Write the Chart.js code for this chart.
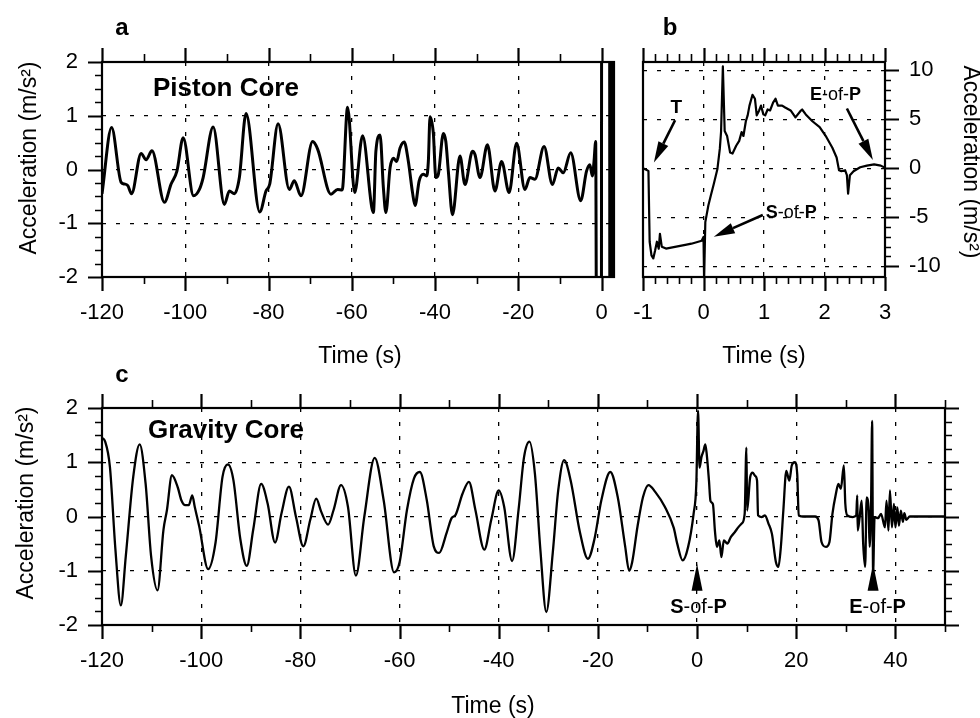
<!DOCTYPE html>
<html><head><meta charset="utf-8">
<script src="https://cdn.jsdelivr.net/npm/chart.js@4.4.1/dist/chart.umd.min.js"></script>
<style>
html,body{margin:0;padding:0;background:#fff;}
#wrap{position:relative;width:980px;height:718px;overflow:hidden;background:#fff;}
#wrap canvas{position:absolute;left:0;top:0;width:980px;height:718px;}
</style></head><body>
<div id="wrap">
<canvas id="ca" width="980" height="718"></canvas>
<canvas id="cb" width="980" height="718"></canvas>
<canvas id="cc" width="980" height="718"></canvas>
</div>
<script>
// ---------- Panel a: Piston Core ----------
const A_TIME = [-120,-117.7,-115.4,-114.6,-113.8,-112.9,-110.6,-109.4,-108,-105,-103.4,-102,-100.5,-98,-96.6,-95.7,-93.3,-90.6,-89.4,-88.2,-87,-85.4,-82.1,-80.6,-79.7,-77.7,-75,-73.8,-72.2,-69.4,-68.2,-65,-63.4,-62.3,-61,-59.3,-57.4,-55.2,-54.8,-54.2,-53.2,-52.4,-51.8,-50.8,-50,-49.2,-48.4,-47.4,-46.4,-45.4,-44.8,-43.8,-42.8,-42,-41.6,-41.2,-40.4,-39.8,-39.2,-38,-37.4,-36.8,-35.8,-34,-32.8,-31,-30.4,-29.2,-27.4,-25.6,-24,-22.2,-20.4,-18.4,-17.2,-16,-13.8,-11.8,-10.4,-9.2,-7.4,-5,-3.6,-2.8,-2.2,-1.8,-1.4,-1.2,-0.02,0.02,1.95,2.0,2.55,2.6,3];
const A_ACC  = [-0.45,0.78,-0.24,-0.27,-0.3,-0.45,0.3,0.18,0.35,-0.61,-0.27,-0.03,0.59,-0.49,-0.37,-0.15,0.79,-0.65,-0.4,-0.45,-0.15,1.04,-0.79,-0.4,-0.27,0.85,-0.37,-0.21,-0.49,0.52,0.38,-0.46,-0.37,-0.38,1.16,-0.43,0.63,-0.7,-0.8,0.34,0.64,-0.34,-0.8,0.03,0.21,0.15,0.4,0.51,0.15,-0.43,-0.67,-0.21,-0.09,-0.12,0.15,0.98,0.67,-0.15,-0.09,0.67,0.52,-0.03,-0.84,0.25,-0.28,0.34,0.28,-0.15,0.46,-0.4,0.15,-0.43,0.49,-0.37,-0.15,-0.18,0.43,-0.28,0.03,-0.06,0.31,-0.58,-0.03,0.09,-0.12,0.15,0.52,-3,-3,3,3,-3,-3,3,3];
const A_X_TICKS = [-120,-100,-80,-60,-40,-20,0];
const A_X_MINOR = [-110,-90,-70,-50,-30,-10];
const A_Y_TICKS = [-2,-1,0,1,2];
const A_Y_MINOR = [-1.75,-1.5,-1.25,-0.75,-0.5,-0.25,0.25,0.5,0.75,1.25,1.5,1.75];

// ---------- Panel b: close-up of penetration ----------
const B_TIME = [-1.0,-0.93,-0.91,-0.89,-0.86,-0.83,-0.8,-0.77,-0.74,-0.72,-0.69,-0.62,-0.45,-0.28,-0.2,-0.03,0.0,0.01,0.03,0.08,0.12,0.17,0.23,0.27,0.29,0.32,0.35,0.39,0.44,0.48,0.54,0.59,0.63,0.66,0.7,0.73,0.76,0.81,0.85,0.88,0.92,0.95,0.99,1.02,1.06,1.1,1.15,1.19,1.23,1.3,1.35,1.44,1.52,1.61,1.63,1.69,1.8,1.92,2.03,2.13,2.2,2.24,2.28,2.34,2.37,2.39,2.42,2.48,2.59,2.7,2.82,2.93,3.0];
const B_ACC  = [0,-0.2,-0.3,-7.5,-8.9,-9.2,-8.4,-7.5,-8.2,-6.7,-8.0,-8.2,-8.0,-7.8,-7.7,-7.4,-7.0,-11.5,-5.5,-3.8,-2.8,-1.6,-0.07,2.0,3.7,10.4,3.8,3.3,1.6,1.5,2.3,2.8,3.7,3.3,4.8,5.4,6.4,7.5,7.1,5.4,5.9,6.4,5.5,5.4,6.0,5.9,6.7,7.1,6.4,6.4,6.2,5.9,5.2,5.9,6.0,5.5,4.8,4.2,3.2,2.1,1.1,-0.2,-0.3,-0.2,-0.7,-2.6,-0.7,-0.3,0.1,0.27,0.4,0.27,0.05];
const B_X_TICKS = [-1,0,1,2,3];
const B_X_MINOR = [-0.8,-0.6,-0.4,-0.2,0.2,0.4,0.6,0.8,1.2,1.4,1.6,1.8,2.2,2.4,2.6,2.8];
const B_Y_TICKS = [-10,-5,0,5,10];
const B_Y_MINOR = [-9,-8,-7,-6,-4,-3,-2,-1,1,2,3,4,6,7,8,9];

// ---------- Panel c: Gravity Core ----------
const C_TIME = [-120,-119.4,-118.4,-117.3,-116.2,-115.2,-113.7,-112.4,-111.2,-110.1,-108.8,-107.6,-106.9,-105.9,-104.7,-104,-103.2,-102.5,-101.8,-101.3,-100.4,-98.6,-97.1,-95.7,-94.6,-93.5,-92.1,-90.8,-89.5,-87.9,-86.6,-85.1,-83.8,-82.3,-80.9,-79.4,-78,-76.8,-75.8,-74.4,-73.3,-71.8,-70.4,-68.8,-67.1,-65,-63.2,-61.1,-60,-58.5,-57.1,-55.9,-54.5,-53.1,-52,-50.5,-49.5,-48.7,-47.3,-46,-44.7,-42.9,-41.5,-40,-38.9,-37.3,-36,-34.9,-33.8,-32.7,-31.6,-30.4,-29.1,-28,-26.8,-25.5,-23.6,-22,-20.7,-19.3,-17.5,-16,-14.5,-13.7,-13.1,-12,-10.9,-9.8,-8.4,-6.5,-4.7,-4,-2.9,-1.8,-0.7,-0.15,0.2,0.5,0.87,1.3,1.66,1.95,2.4,2.7,3.2,3.6,4,4.5,4.9,5.4,6.1,6.8,7.6,8.3,9,9.6,9.95,10.1,10.7,11.2,11.7,12.1,12.3,13,13.7,14.4,15.1,15.9,16.4,16.9,17.4,18,18.6,19.1,19.7,20.2,20.5,21.6,23.8,24.5,25.1,26,26.7,27.3,28,28.5,29,29.6,29.9,30.3,31.4,32.1,32.3,32.4,32.8,33.2,33.5,33.9,34.2,34.6,34.8,35.1,35.3,35.5,35.8,36.5,37.1,37.9,38.2,38.6,38.9,39.3,39.7,40,40.4,40.7,41.1,41.5,41.8,42.2,42.9,50];
const C_ACC  = [1.45,1.39,0.91,-0.6,-1.64,-0.73,0.73,1.33,0.6,-0.73,-1.36,-0.24,0.12,0.76,0.53,0.3,0.21,0.21,0.39,0.18,-0.18,-0.97,-0.48,0.73,0.96,0.67,-0.42,-0.91,-0.24,0.6,0.24,-0.48,0.06,0.55,0,-0.55,-0.06,0.33,0.09,-0.15,0.12,0.58,0.18,-1.09,0,1.08,0.3,-1.03,-0.85,0.12,0.7,0.82,0.3,-0.55,-0.67,-0.3,-0.03,0.03,0.42,0.64,0.12,-0.61,-0.06,0.48,0.18,-0.82,0.12,1.09,1.38,0.79,-0.61,-1.76,-0.67,0.48,1.04,0.67,-0.3,-0.78,-0.42,0.3,0.82,0.36,-0.55,-1.0,-0.85,-0.18,0.36,0.58,0.45,0.18,-0.21,-0.5,-0.81,-0.56,0.05,0.6,1.95,0.9,1.09,1.21,1.33,1.15,0.66,0.29,0.23,-0.26,-0.56,-0.44,-0.75,-0.44,-0.5,-0.38,-0.29,-0.2,-0.13,0.05,1.27,0.11,0.72,0.81,0.75,0.66,0.02,-0.01,0.02,-0.13,-0.32,-0.84,-0.93,-0.56,0.11,0.84,0.66,0.94,1.0,0.78,0.02,0,0,-0.07,-0.47,-0.56,-0.47,0.05,0.42,0.6,0.51,0.94,0.23,0.02,-0.01,0.02,0.39,-0.26,0,0.29,-0.5,-0.93,0.35,0.11,-0.56,0.3,1.76,-1.05,-0.01,-0.03,0.05,-0.2,0.29,-0.26,0.48,-0.2,0.23,-0.2,0.17,-0.17,0.11,-0.1,0.06,-0.06,0,0];
const C_X_TICKS = [-120,-100,-80,-60,-40,-20,0,20,40];
const C_X_MINOR = [-110,-90,-70,-50,-30,-10,10,30,50];
const C_Y_TICKS = [-2,-1,0,1,2];
const C_Y_MINOR = [-1.75,-1.5,-1.25,-0.75,-0.5,-0.25,0.25,0.5,0.75,1.25,1.5,1.75];
const C_MARK_TIMES = [0, 35.5];            // S-of-P, E-of-P markers
const C_MARK_LABELS = ['S', 'E'];

const FONT = '"Liberation Sans", Arial, Helvetica, sans-serif';
Chart.defaults.font.family = FONT;
Chart.defaults.color = '#000';

function pts(xs, ys) { return xs.map((x, i) => ({x: x, y: ys[i]})); }

function gridColor(hide) {
  return c => (c.tick && hide.indexOf(c.tick.value) >= 0) ? 'rgba(0,0,0,0)' : '#000';
}
function xScale(min, max, ticks, hide) {
  return {
    type: 'linear', position: 'bottom', min: min, max: max,
    afterBuildTicks: s => { s.ticks = ticks.map(v => ({value: v})); },
    afterFit: s => { s.height = 50; },
    ticks: {font: {size: 22}, color: '#000', padding: 23, maxRotation: 0, minRotation: 0, autoSkip: false,
            callback: v => String(v)},
    grid: {drawTicks: false, lineWidth: 1.3, color: gridColor(hide)},
    border: {display: false, dash: [4, 10]}
  };
}
function yScale(pos, min, max, ticks, hide) {
  return {
    type: 'linear', position: pos, min: min, max: max,
    afterBuildTicks: s => { s.ticks = ticks.map(v => ({value: v})); },
    afterFit: s => { s.width = 60; },
    ticks: {font: {size: 22}, color: '#000', padding: 24, autoSkip: false, callback: v => String(v)},
    grid: {drawTicks: false, lineWidth: 1.3, color: gridColor(hide)},
    border: {display: false, dash: [4, 10]}
  };
}

function tickMarks(chart, specs) {
  const ctx = chart.ctx, a = chart.chartArea;
  ctx.save();
  ctx.strokeStyle = '#000'; ctx.lineCap = 'butt';
  specs.forEach(sp => {
    const sc = (sp.side === 'top' || sp.side === 'bottom') ? chart.scales.x : chart.scales.y;
    const draw = (vals, len, lw) => {
      ctx.lineWidth = lw; ctx.beginPath();
      vals.forEach(v => {
        const p = Math.round(sc.getPixelForValue(v)) + 0.5;
        if (sp.side === 'bottom') { ctx.moveTo(p, a.bottom); ctx.lineTo(p, a.bottom + len); }
        else if (sp.side === 'top') { ctx.moveTo(p, a.top); ctx.lineTo(p, a.top - len); }
        else if (sp.side === 'left') { ctx.moveTo(a.left, p); ctx.lineTo(a.left - len, p); }
        else { ctx.moveTo(a.right, p); ctx.lineTo(a.right + len, p); }
      });
      ctx.stroke();
    };
    draw(sp.minor, sp.minLen, 1.6);
    draw(sp.major, sp.majLen, 2.2);
  });
  ctx.lineWidth = 2.2;
  ctx.strokeRect(a.left, a.top, a.right - a.left, a.bottom - a.top);
  ctx.restore();
}

function text(ctx, str, x, y, size, bold, align) {
  ctx.font = (bold ? 'bold ' : '') + size + 'px ' + FONT;
  ctx.textAlign = align || 'center'; ctx.textBaseline = 'alphabetic';
  ctx.fillStyle = '#000';
  ctx.fillText(str, x, y);
}
function vtext(ctx, str, x, y, size, rot) {
  ctx.save();
  ctx.translate(x, y); ctx.rotate(rot);
  ctx.font = size + 'px ' + FONT;
  ctx.textAlign = 'center'; ctx.textBaseline = 'middle'; ctx.fillStyle = '#000';
  ctx.fillText(str, 0, 0);
  ctx.restore();
}
function rich(ctx, parts, x, y, size, align) {
  let total = 0; const ws = [];
  parts.forEach(p => { ctx.font = (p[1] ? 'bold ' : '') + size + 'px ' + FONT; const w = ctx.measureText(p[0]).width; ws.push(w); total += w; });
  let cx = align === 'center' ? x - total / 2 : x;
  ctx.textAlign = 'left'; ctx.textBaseline = 'alphabetic'; ctx.fillStyle = '#000';
  parts.forEach((p, i) => { ctx.font = (p[1] ? 'bold ' : '') + size + 'px ' + FONT; ctx.fillText(p[0], cx, y); cx += ws[i]; });
}
function arrow(ctx, x1, y1, x2, y2) {
  const head = 21, hw = 5.5;
  const ang = Math.atan2(y2 - y1, x2 - x1);
  const bx = x2 - head * Math.cos(ang), by = y2 - head * Math.sin(ang);
  ctx.save();
  ctx.strokeStyle = '#000'; ctx.fillStyle = '#000'; ctx.lineWidth = 2.6;
  ctx.beginPath(); ctx.moveTo(x1, y1); ctx.lineTo(bx, by); ctx.stroke();
  ctx.beginPath(); ctx.moveTo(x2, y2);
  ctx.lineTo(bx + hw * Math.sin(ang), by - hw * Math.cos(ang));
  ctx.lineTo(bx - hw * Math.sin(ang), by + hw * Math.cos(ang));
  ctx.closePath(); ctx.fill();
  ctx.restore();
}
const ofP = L => [[L, true], ['-of-', false], ['P', true]];

function baseOptions(padding, scales) {
  return {
    responsive: false, animation: false, events: [],
    layout: {padding: padding},
    plugins: {legend: {display: false}, tooltip: {enabled: false}, title: {display: false}},
    elements: {point: {radius: 0}},
    scales: scales
  };
}

// ---- Chart a ----
new Chart(document.getElementById('ca'), {
  type: 'line',
  data: {datasets: [{data: pts(A_TIME, A_ACC), borderColor: '#000', borderWidth: 3, pointRadius: 0,
    cubicInterpolationMode: 'monotone', borderJoinStyle: 'round', fill: false}]},
  options: baseOptions({left: 42, right: 366, top: 62, bottom: 391}, {
    x: xScale(-120, 3, A_X_TICKS, [-120]),
    y: yScale('left', -2, 2, A_Y_TICKS, [-2, 2])
  }),
  plugins: [{id: 'decoA', afterDraw(chart) {
    tickMarks(chart, [
      {side: 'bottom', major: A_X_TICKS, minor: A_X_MINOR, majLen: 14, minLen: 7},
      {side: 'top', major: A_X_TICKS, minor: A_X_MINOR, majLen: 14, minLen: 8},
      {side: 'left', major: A_Y_TICKS, minor: A_Y_MINOR, majLen: 14, minLen: 7}
    ]);
    const ctx = chart.ctx;
    text(ctx, 'a', 122, 35, 24, true);
    text(ctx, 'Piston Core', 153, 96, 26, true, 'left');
    text(ctx, 'Time (s)', 360, 363, 23, false);
    vtext(ctx, 'Acceleration (m/s\u00B2)', 30, 158, 23, -Math.PI / 2);
  }}]
});

// ---- Chart b ----
new Chart(document.getElementById('cb'), {
  type: 'line',
  data: {datasets: [{data: pts(B_TIME, B_ACC), borderColor: '#000', borderWidth: 2.2, pointRadius: 0,
    tension: 0, borderJoinStyle: 'round', fill: false}]},
  options: baseOptions({left: 643, right: 35, top: 62, bottom: 391}, {
    x: xScale(-1, 3, B_X_TICKS, [-1, 3]),
    y: yScale('right', -11.1, 10.85, B_Y_TICKS, [])
  }),
  plugins: [{id: 'decoB', afterDraw(chart) {
    tickMarks(chart, [
      {side: 'bottom', major: B_X_TICKS, minor: B_X_MINOR, majLen: 14, minLen: 7},
      {side: 'top', major: B_X_TICKS, minor: B_X_MINOR, majLen: 14, minLen: 8},
      {side: 'right', major: B_Y_TICKS, minor: B_Y_MINOR, majLen: 14, minLen: 6}
    ]);
    const ctx = chart.ctx, xs = chart.scales.x, ys = chart.scales.y;
    const X = v => xs.getPixelForValue(v), Y = v => ys.getPixelForValue(v);
    text(ctx, 'b', 670, 35, 24, true);
    text(ctx, 'Time (s)', 764, 363, 23, false);
    vtext(ctx, 'Acceleration (m/s\u00B2)', 970, 162, 23, Math.PI / 2);
    // T (trigger) annotation
    text(ctx, 'T', X(-0.45), Y(5.6), 19, true);
    arrow(ctx, X(-0.47), Y(4.9), X(-0.82), Y(0.6));
    // E-of-P annotation
    rich(ctx, ofP('E'), X(1.76), Y(6.97), 18, 'left');
    arrow(ctx, X(2.37), Y(6.1), X(2.8), Y(0.85));
    // S-of-P annotation
    rich(ctx, ofP('S'), X(1.03), Y(-5.07), 18, 'left');
    arrow(ctx, X(0.98), Y(-4.77), X(0.17), Y(-6.98));
  }}]
});

// ---- Chart c ----
new Chart(document.getElementById('cc'), {
  type: 'line',
  data: {datasets: [{data: pts(C_TIME, C_ACC), borderColor: '#000', borderWidth: 2.3, pointRadius: 0,
    cubicInterpolationMode: 'monotone', borderJoinStyle: 'round', fill: false}]},
  options: baseOptions({left: 42, right: 35, top: 408, bottom: 43}, {
    x: xScale(-120, 50, C_X_TICKS, [-120]),
    y: yScale('left', -2, 2, C_Y_TICKS, [-2, 2])
  }),
  plugins: [{id: 'decoC', afterDraw(chart) {
    tickMarks(chart, [
      {side: 'bottom', major: C_X_TICKS, minor: C_X_MINOR, majLen: 14, minLen: 7},
      {side: 'top', major: C_X_TICKS, minor: C_X_MINOR, majLen: 14, minLen: 8},
      {side: 'left', major: C_Y_TICKS, minor: C_Y_MINOR, majLen: 14, minLen: 7},
      {side: 'right', major: C_Y_TICKS, minor: C_Y_MINOR, majLen: 14, minLen: 7}
    ]);
    const ctx = chart.ctx, xs = chart.scales.x, ys = chart.scales.y;
    text(ctx, 'c', 122, 382, 24, true);
    text(ctx, 'Gravity Core', 148, 438, 26, true, 'left');
    text(ctx, 'Time (s)', 493, 713, 23, false);
    vtext(ctx, 'Acceleration (m/s\u00B2)', 27, 503, 23, -Math.PI / 2);
    ctx.save(); ctx.fillStyle = '#000';
    C_MARK_TIMES.forEach((t, i) => {
      const px = xs.getPixelForValue(t);
      const top = ys.getPixelForValue(-0.87), base = ys.getPixelForValue(-1.37);
      ctx.beginPath(); ctx.moveTo(px, top); ctx.lineTo(px - 5.5, base); ctx.lineTo(px + 5.5, base); ctx.closePath(); ctx.fill();
      rich(ctx, ofP(C_MARK_LABELS[i]), i === 0 ? px + 1.5 : px + 4.5, ys.getPixelForValue(-1.78), 20, 'center');
    });
    ctx.restore();
  }}]
});
</script>
</body></html>
